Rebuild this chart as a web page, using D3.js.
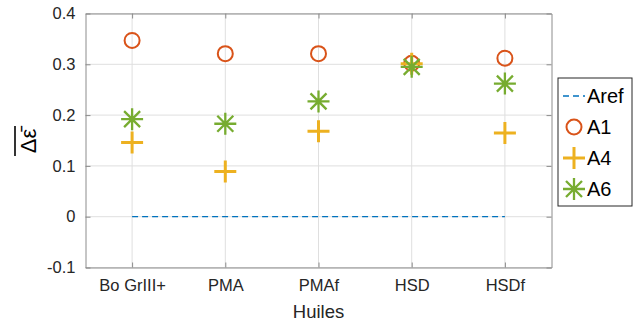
<!DOCTYPE html>
<html><head><meta charset="utf-8">
<script src="https://cdn.jsdelivr.net/npm/d3@7"></script>
<style>body{margin:0;background:#fff}svg{display:block}text{font-family:"Liberation Sans",Arial,sans-serif}</style>
</head><body><svg id="c" width="641" height="321"></svg>
<script>
const categories = ["Bo GrIII+","PMA","PMAf","HSD","HSDf"];
const A1 = [0.347,0.321,0.321,0.302,0.312];
const A4 = [0.146,0.089,0.168,0.301,0.165];
const A6 = [0.192,0.183,0.227,0.295,0.262];
const Aref = [0,0,0,0,0];
const yTicks = [-0.1,0,0.1,0.2,0.3,0.4];
const yTickLabels = ["-0.1","0","0.1","0.2","0.3","0.4"];

const svg = d3.select("#c");
const L=85.5,R=551.5,T=13.5,B=267.5;
const x = d3.scalePoint().domain(categories).range([L,R]).padding(0.5);
const y = d3.scaleLinear().domain([-0.1,0.4]).range([B,T]);
const axisCol="#8c8c8c", textCol="#262626";

// grid
const g = svg.append("g");
g.selectAll(".gx").data(categories).enter().append("line")
 .attr("x1",d=>x(d)).attr("x2",d=>x(d)).attr("y1",T).attr("y2",B)
 .attr("stroke","#dfdfdf").attr("stroke-width",1);
g.selectAll(".gy").data(yTicks).enter().append("line")
 .attr("x1",L).attr("x2",R).attr("y1",d=>y(d)).attr("y2",d=>y(d))
 .attr("stroke","#dfdfdf").attr("stroke-width",1);

// axes
const ax = svg.append("g").attr("transform",`translate(0,${B})`)
 .call(d3.axisBottom(x).tickSizeInner(-5).tickSizeOuter(0).tickPadding(12));
const ay = svg.append("g").attr("transform",`translate(${L},0)`)
 .call(d3.axisLeft(y).tickValues(yTicks).tickFormat((d,i)=>yTickLabels[i]).tickSizeInner(-5).tickSizeOuter(0).tickPadding(10));
const at = svg.append("g").attr("transform",`translate(0,${T})`)
 .call(d3.axisTop(x).tickSizeInner(-5).tickSizeOuter(0).tickFormat(""));
const ar = svg.append("g").attr("transform",`translate(${R},0)`)
 .call(d3.axisRight(y).tickValues(yTicks).tickSizeInner(-5).tickSizeOuter(0).tickFormat(""));
[ax,ay,at,ar].forEach(a=>{
 a.select(".domain").attr("stroke",axisCol);
 a.selectAll(".tick line").attr("stroke",axisCol);
 a.selectAll("text").attr("fill",textCol).style("font-size","16.5px").style("font-family",'"Liberation Sans",Arial,sans-serif');
});

// Aref
svg.append("path").datum(Aref)
 .attr("d",d3.line().x((d,i)=>x(categories[i])).y(d=>y(d)))
 .attr("fill","none").attr("stroke","#0072BD").attr("stroke-width",1.3).attr("stroke-dasharray","6,4");

// markers
function circle(sel,col){sel.append("circle").attr("r",7.5).attr("fill","none").attr("stroke",col).attr("stroke-width",2);}
function plus(sel,col){sel.append("path").attr("d","M-11,0H11M0,-11V11").attr("stroke",col).attr("stroke-width",3).attr("fill","none");}
function star(sel,col){sel.append("path").attr("d","M-11,0H11M0,-11V11M-8,-8L8,8M-8,8L8,-8").attr("stroke",col).attr("stroke-width",2.3).attr("fill","none");}

const series=[{name:"A1",v:A1,col:"#D95319",m:circle},{name:"A4",v:A4,col:"#EDB120",m:plus},{name:"A6",v:A6,col:"#77AC30",m:star}];
series.forEach(s=>{
 s.v.forEach((v,i)=>{
  const gg=svg.append("g").attr("transform",`translate(${x(categories[i])},${y(v)})`);
  s.m(gg,s.col);
 });
});

// labels
svg.append("text").attr("x",(L+R)/2).attr("y",318).attr("text-anchor","middle")
 .attr("fill",textCol).style("font-size","18.5px").text("Huiles");
const yl = svg.append("g").attr("transform","translate(36,141) rotate(-90)");
yl.append("text").attr("text-anchor","middle").attr("fill","#000").style("font-size","22px").text("\u0394\u03B5\u0304");
yl.append("line").attr("x1",-15).attr("x2",15).attr("y1",-21).attr("y2",-21).attr("stroke","#000").attr("stroke-width",1.6);

// legend
const lg = svg.append("g");
lg.append("rect").attr("x",558).attr("y",78).attr("width",74).attr("height",128)
 .attr("fill","#fff").attr("stroke","#262626").attr("stroke-width",1);
const items=[{name:"Aref"}].concat(series);
items.forEach((it,i)=>{
 const cy=96+i*31, cx=574;
 const gg=lg.append("g").attr("transform",`translate(${cx},${cy})`);
 if(it.m) it.m(gg,it.col);
 else gg.append("line").attr("x1",-11).attr("x2",11).attr("stroke","#0072BD").attr("stroke-width",1.3).attr("stroke-dasharray","6,4");
 lg.append("text").attr("x",587).attr("y",cy+7).attr("fill","#000").style("font-size","20px").text(it.name);
});
</script></body></html>
